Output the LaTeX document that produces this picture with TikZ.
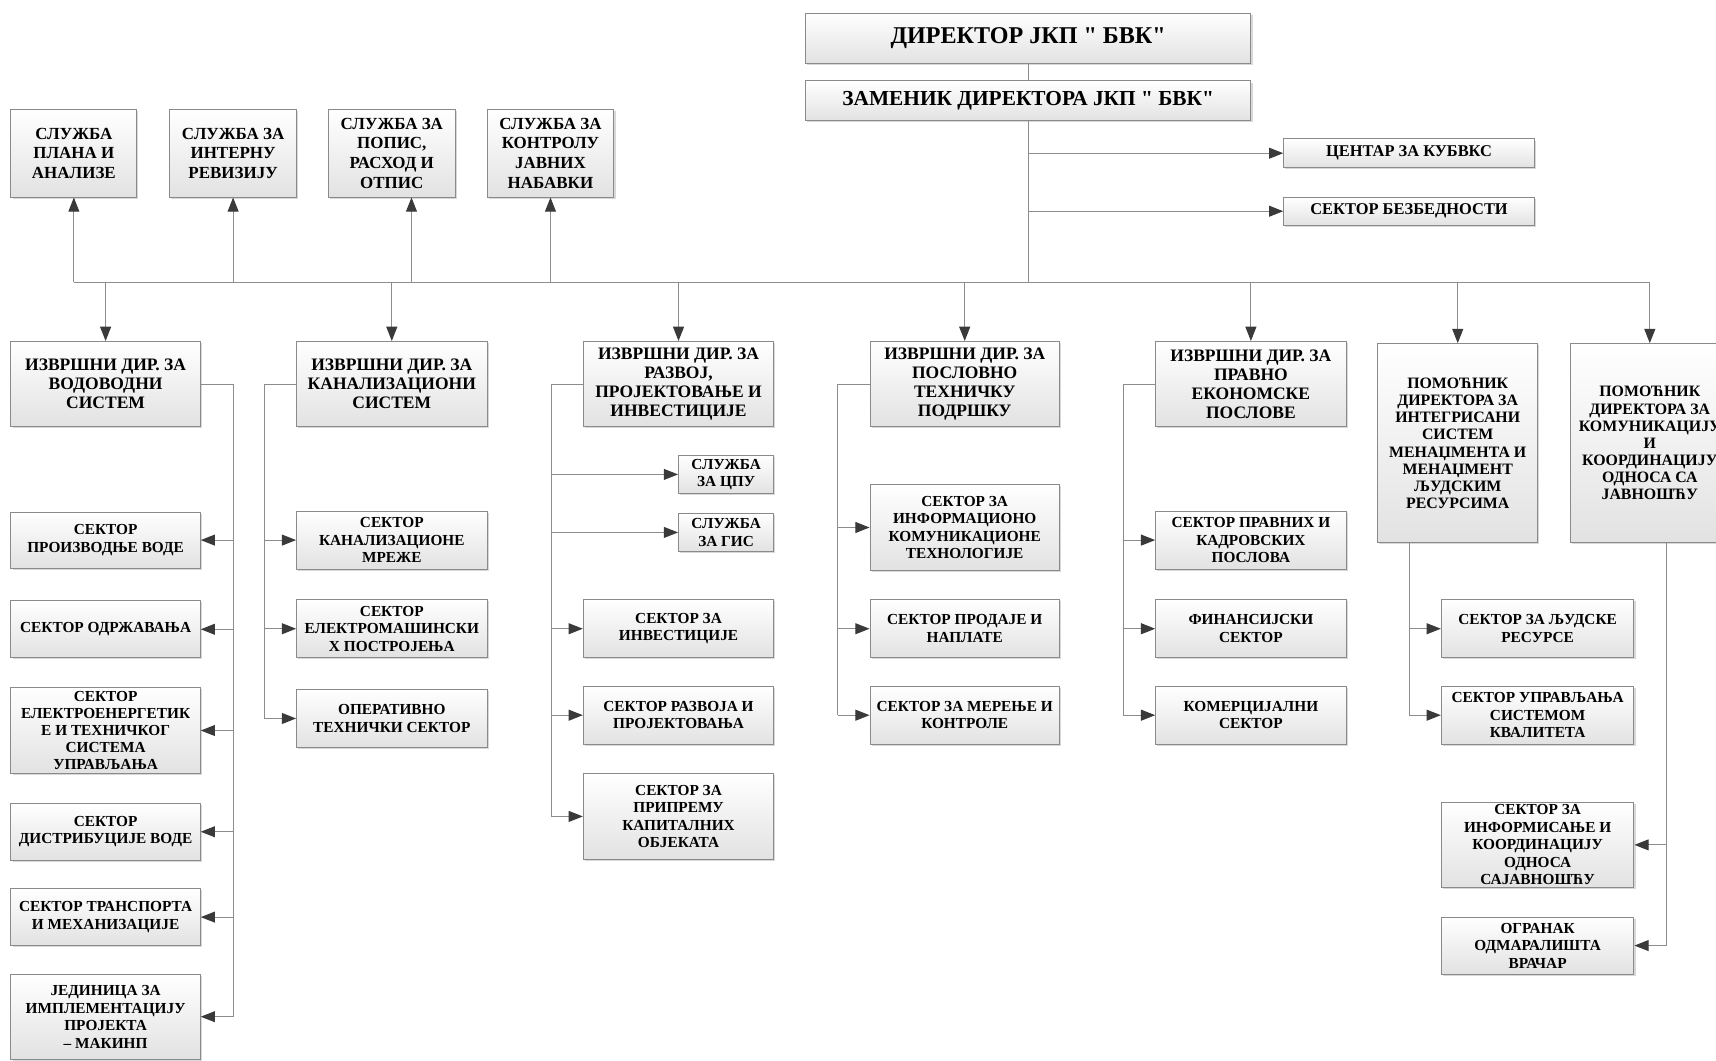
\documentclass[tikz,border=0pt]{standalone}
\usepackage{fontspec}
\setmainfont{Liberation Serif}[Ligatures=TeXOff]
\usetikzlibrary{arrows.meta,shadows}
\definecolor{boxline}{HTML}{8A8A8A}
\definecolor{boxbot}{HTML}{E2E2E2}
\definecolor{conn}{HTML}{8C8C8C}
\definecolor{tipc}{HTML}{3A3A3A}
\newcommand\orgbox[7][]{\node[box,#1,minimum width={(#5-#3)*1pt},minimum height={(#6-#4)*1pt}] (#2) at ({(#3+#5)/2},{(#4+#6)/2}) {#7};}
\begin{document}
\begin{tikzpicture}[x=1pt,y=-1pt,
  box/.style={draw=boxline, line width=0.9pt, top color=white, bottom color=boxbot,
    align=center, inner sep=1pt, font=\bfseries\fontsize{14}{16}\selectfont,
    drop shadow={shadow xshift=1.5pt, shadow yshift=-1.5pt, opacity=0.3, fill=gray}},
  execf/.style={font=\bfseries\fontsize{16}{17.5}\selectfont},
  svcf/.style={font=\bfseries\fontsize{15.5}{18}\selectfont},
  pomf/.style={font=\bfseries\fontsize{14.5}{15.7}\selectfont},
  dirf/.style={font=\bfseries\fontsize{22}{26}\selectfont},
  zamf/.style={font=\bfseries\fontsize{19.5}{22}\selectfont},
  sidef/.style={font=\bfseries\fontsize{15}{18}\selectfont},
  fivef/.style={font=\bfseries\fontsize{14}{15.5}\selectfont},
  conn/.style={draw=conn, line width=1pt},
  arr/.style={conn, -{Triangle[length=13pt,width=10pt,color=tipc]}}]
\fill[white] (0,0) rectangle (1568,969);
\useasboundingbox (0,0) rectangle (1568,969);

% top
\orgbox[dirf]{dir}{736}{12}{1143}{58}{ДИРЕКТОР ЈКП " БВК"}
\orgbox[zamf]{zam}{736}{74}{1143}{110}{ЗАМЕНИК ДИРЕКТОРА ЈКП " БВК"}
\orgbox[sidef]{cen}{1173}{127}{1402}{153}{ЦЕНТАР ЗА КУБВКС}
\orgbox[sidef]{bez}{1173}{180}{1402}{206}{СЕКТОР БЕЗБЕДНОСТИ}

% services
\orgbox[svcf]{s1}{10}{100}{125}{180}{СЛУЖБА\\ПЛАНА И\\АНАЛИЗЕ}
\orgbox[svcf]{s2}{155}{100}{271}{180}{СЛУЖБА ЗА\\ИНТЕРНУ\\РЕВИЗИЈУ}
\orgbox[svcf]{s3}{300}{100}{416}{180}{СЛУЖБА ЗА\\ПОПИС,\\РАСХОД И\\ОТПИС}
\orgbox[svcf]{s4}{445}{100}{561}{180}{СЛУЖБА ЗА\\КОНТРОЛУ\\ЈАВНИХ\\НАБАВКИ}

% executives
\orgbox[execf]{e1}{10}{312}{183}{390}{ИЗВРШНИ ДИР. ЗА\\ВОДОВОДНИ\\СИСТЕМ}
\orgbox[execf]{e2}{271}{312}{445}{390}{ИЗВРШНИ ДИР. ЗА\\КАНАЛИЗАЦИОНИ\\СИСТЕМ}
\orgbox[execf]{e3}{533}{312}{707}{390}{ИЗВРШНИ ДИР. ЗА\\РАЗВОЈ,\\ПРОЈЕКТОВАЊЕ И\\ИНВЕСТИЦИЈЕ}
\orgbox[execf]{e4}{795}{312}{968}{390}{ИЗВРШНИ ДИР. ЗА\\ПОСЛОВНО\\ТЕХНИЧКУ\\ПОДРШКУ}
\orgbox[execf]{e5}{1056}{312}{1230}{390}{ИЗВРШНИ ДИР. ЗА\\ПРАВНО\\ЕКОНОМСКЕ\\ПОСЛОВЕ}
\orgbox[pomf]{e6}{1259}{314}{1405}{496}{ПОМОЋНИК\\ДИРЕКТОРА ЗА\\ИНТЕГРИСАНИ\\СИСТЕМ\\МЕНАЏМЕНТА И\\МЕНАЏМЕНТ\\ЉУДСКИМ\\РЕСУРСИМА}
\orgbox[pomf]{e7}{1435}{314}{1580}{496}{ПОМОЋНИК\\ДИРЕКТОРА ЗА\\КОМУНИКАЦИЈУ\\И\\КООРДИНАЦИЈУ\\ОДНОСА СА\\ЈАВНОШЋУ}

% column 1
\orgbox{c1a}{10}{468}{183}{519}{СЕКТОР\\ПРОИЗВОДЊЕ ВОДЕ}
\orgbox{c1b}{10}{549}{183}{601}{СЕКТОР ОДРЖАВАЊА}
\orgbox[fivef]{c1c}{10}{628}{183}{707}{СЕКТОР\\ЕЛЕКТРОЕНЕРГЕТИК\\Е И ТЕХНИЧКОГ\\СИСТЕМА\\УПРАВЉАЊА}
\orgbox{c1d}{10}{734}{183}{786}{СЕКТОР\\ДИСТРИБУЦИЈЕ ВОДЕ}
\orgbox{c1e}{10}{812}{183}{864}{СЕКТОР ТРАНСПОРТА\\И МЕХАНИЗАЦИЈЕ}
\orgbox{c1f}{10}{890}{183}{968}{ЈЕДИНИЦА ЗА\\ИМПЛЕМЕНТАЦИЈУ\\ПРОЈЕКТА\\– МАКИНП}

% column 2
\orgbox{c2a}{271}{467}{445}{520}{СЕКТОР\\КАНАЛИЗАЦИОНЕ\\МРЕЖЕ}
\orgbox{c2b}{271}{548}{445}{601}{СЕКТОР\\ЕЛЕКТРОМАШИНСКИ\\Х ПОСТРОЈЕЊА}
\orgbox{c2c}{271}{630}{445}{683}{ОПЕРАТИВНО\\ТЕХНИЧКИ СЕКТОР}

% column 3
\orgbox{c3a}{620}{416}{707}{451}{СЛУЖБА\\ЗА ЦПУ}
\orgbox{c3b}{620}{469}{707}{504}{СЛУЖБА\\ЗА ГИС}
\orgbox{c3c}{533}{548}{707}{601}{СЕКТОР ЗА\\ИНВЕСТИЦИЈЕ}
\orgbox{c3d}{533}{627}{707}{680}{СЕКТОР РАЗВОЈА И\\ПРОЈЕКТОВАЊА}
\orgbox{c3e}{533}{707}{707}{785}{СЕКТОР ЗА\\ПРИПРЕМУ\\КАПИТАЛНИХ\\ОБЈЕКАТА}

% column 4
\orgbox{c4a}{795}{443}{968}{521}{СЕКТОР ЗА\\ИНФОРМАЦИОНО\\КОМУНИКАЦИОНЕ\\ТЕХНОЛОГИЈЕ}
\orgbox{c4b}{795}{548}{968}{601}{СЕКТОР ПРОДАЈЕ И\\НАПЛАТЕ}
\orgbox{c4c}{795}{627}{968}{680}{СЕКТОР ЗА МЕРЕЊЕ И\\КОНТРОЛЕ}

% column 5
\orgbox{c5a}{1056}{467}{1230}{520}{СЕКТОР ПРАВНИХ И\\КАДРОВСКИХ\\ПОСЛОВА}
\orgbox{c5b}{1056}{548}{1230}{601}{ФИНАНСИЈСКИ\\СЕКТОР}
\orgbox{c5c}{1056}{627}{1230}{680}{КОМЕРЦИЈАЛНИ\\СЕКТОР}

% column 6
\orgbox{c6a}{1317}{548}{1493}{601}{СЕКТОР ЗА ЉУДСКЕ\\РЕСУРСЕ}
\orgbox{c6b}{1317}{627}{1493}{680}{СЕКТОР УПРАВЉАЊА\\СИСТЕМОМ\\КВАЛИТЕТА}

% column 7
\orgbox{c7a}{1317}{733}{1493}{811}{СЕКТОР ЗА\\ИНФОРМИСАЊЕ И\\КООРДИНАЦИЈУ\\ОДНОСА\\САЈАВНОШЋУ}
\orgbox{c7b}{1317}{838}{1493}{890}{ОГРАНАК\\ОДМАРАЛИШТА\\ВРАЧАР}

% helper coordinates
\coordinate (bus) at (0,258);
\coordinate (s3a) at ([xshift=18pt]s3.south);
\coordinate (sp1) at ([xshift=30pt]e1.east);
\coordinate (sp2) at ([xshift=-29pt]e2.west);
\coordinate (sp3) at ([xshift=-29pt]e3.west);
\coordinate (sp4) at ([xshift=-29pt]e4.west);
\coordinate (sp5) at ([xshift=-29pt]e5.west);
\coordinate (sp6) at ([xshift=-29pt]c6a.west);
\coordinate (sp7) at ([xshift=29pt]c7a.east);

% top connectors
\draw[conn] (dir) -- (zam);
\draw[conn] (zam.south) -- (zam.south |- bus);
\draw[arr] (zam.south |- cen.west) -- (cen.west);
\draw[arr] (zam.south |- bez.west) -- (bez.west);
\draw[conn] (s1.south |- bus) -- (e7.north |- bus);

% up to services
\draw[arr] (s1.south |- bus) -- (s1.south);
\draw[arr] (s2.south |- bus) -- (s2.south);
\draw[arr] (s3a |- bus) -- (s3a);
\draw[arr] (s4.south |- bus) -- (s4.south);

% down to executives
\foreach \n in {e1,e2,e3,e4,e5,e6,e7}
  \draw[arr] (\n.north |- bus) -- (\n.north);

% column 1
\draw[conn] (e1.east) -- (sp1) -- (sp1 |- c1f.east);
\foreach \n in {c1a,c1b,c1c,c1d,c1e,c1f}
  \draw[arr] (sp1 |- \n.east) -- (\n.east);

% column 2
\draw[conn] (e2.west) -- (sp2) -- (sp2 |- c2c.west);
\foreach \n in {c2a,c2b,c2c}
  \draw[arr] (sp2 |- \n.west) -- (\n.west);

% column 3
\draw[conn] (e3.west) -- (sp3) -- (sp3 |- c3e.west);
\foreach \n in {c3a,c3b,c3c,c3d,c3e}
  \draw[arr] (sp3 |- \n.west) -- (\n.west);

% column 4
\draw[conn] (e4.west) -- (sp4) -- (sp4 |- c4c.west);
\foreach \n in {c4a,c4b,c4c}
  \draw[arr] (sp4 |- \n.west) -- (\n.west);

% column 5
\draw[conn] (e5.west) -- (sp5) -- (sp5 |- c5c.west);
\foreach \n in {c5a,c5b,c5c}
  \draw[arr] (sp5 |- \n.west) -- (\n.west);

% column 6
\draw[conn] (sp6 |- e6.south) -- (sp6 |- c6b.west);
\foreach \n in {c6a,c6b}
  \draw[arr] (sp6 |- \n.west) -- (\n.west);

% column 7
\draw[conn] (sp7 |- e7.south) -- (sp7 |- c7b.east);
\foreach \n in {c7a,c7b}
  \draw[arr] (sp7 |- \n.east) -- (\n.east);
\end{tikzpicture}
\end{document}
